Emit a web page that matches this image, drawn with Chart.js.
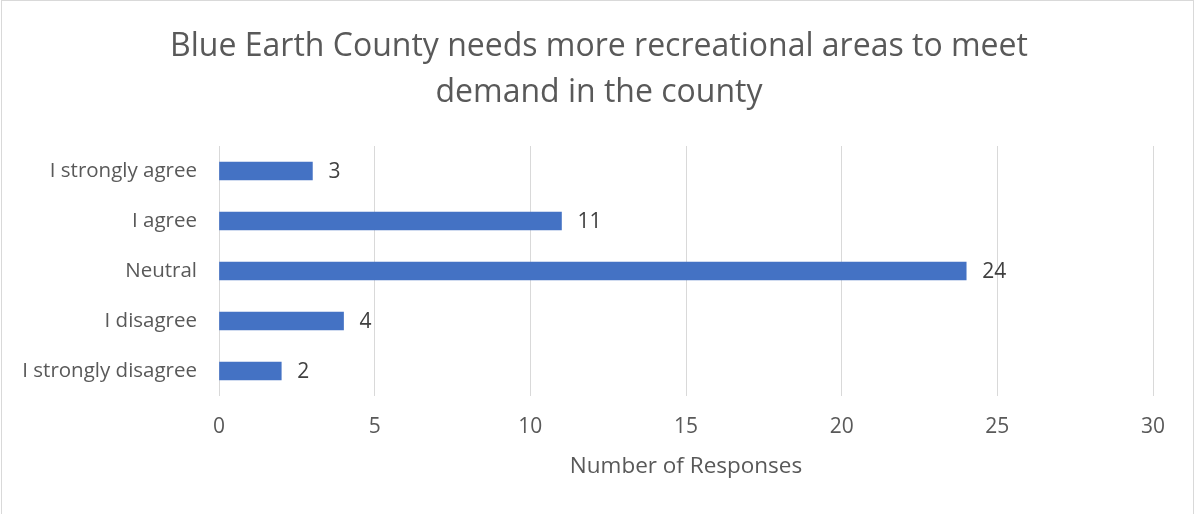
<!DOCTYPE html>
<html>
<head>
<meta charset="utf-8">
<script src="https://cdn.jsdelivr.net/npm/chart.js@4/dist/chart.umd.min.js"></script>
<style>
  html, body { margin: 0; padding: 0; background: #fff; }
  #wrap { position: relative; width: 1198px; height: 514px; }
  #frame { position: absolute; left: 1px; top: 0; width: 1193px; height: 520px; border: 1px solid #d9d9d9; box-sizing: border-box; }
  canvas { position: absolute; left: 0; top: 0; }
</style>
</head>
<body>
<div id="wrap">
  <div id="frame"></div>
  <canvas id="chart" width="1198" height="514"></canvas>
</div>
<script>
// Chart data
const categories = ['I strongly agree', 'I agree', 'Neutral', 'I disagree', 'I strongly disagree'];
const responses = [3, 11, 24, 4, 2];
const xTicks = [0, 5, 10, 15, 20, 25, 30];
const titleLines = ['Blue Earth County needs more recreational areas to meet', 'demand in the county'];

const textGrey = '#595959';
const fontFamily = '"Open Sans", "Liberation Sans", sans-serif';

// Title centred on the whole canvas (the built-in one centres between paddings)
const centeredTitle = {
    id: 'centeredTitle',
    afterDraw(chart) {
        const ctx = chart.ctx;
        ctx.save();
        ctx.fillStyle = textGrey;
        ctx.font = '32px ' + fontFamily;
        ctx.textAlign = 'center';
        ctx.textBaseline = 'middle';
        titleLines.forEach((line, i) => {
            ctx.fillText(line, chart.width / 2, 47 + i * 46);
        });
        ctx.restore();
    }
};

// Value labels just past each bar end
const barLabels = {
    id: 'barLabels',
    afterDatasetsDraw(chart) {
        const ctx = chart.ctx;
        const meta = chart.getDatasetMeta(0);
        ctx.save();
        ctx.fillStyle = '#404040';
        ctx.font = '21px ' + fontFamily;
        ctx.textAlign = 'left';
        ctx.textBaseline = 'middle';
        meta.data.forEach((bar, i) => {
            ctx.fillText(String(responses[i]), bar.x + 16, bar.y + 1);
        });
        ctx.restore();
    }
};

new Chart(document.getElementById('chart').getContext('2d'), {
    type: 'bar',
    data: {
        labels: categories,
        datasets: [{
            data: responses,
            backgroundColor: '#4472c4',
            barThickness: 18
        }]
    },
    plugins: [barLabels, centeredTitle],
    options: {
        indexAxis: 'y',
        responsive: false,
        animation: false,
        layout: { padding: { left: 0, right: 45, top: 146, bottom: 34 } },
        plugins: {
            legend: { display: false },
            tooltip: { enabled: false },
            title: { display: false }
        },
        scales: {
            x: {
                min: 0,
                max: 30,
                afterBuildTicks(scale) {
                    scale.ticks = xTicks.map(v => ({ value: v }));
                },
                afterFit(scale) { scale.height = 84; },
                grid: { color: '#d9d9d9', lineWidth: 1, drawTicks: false },
                border: { display: false },
                ticks: {
                    color: textGrey,
                    font: { family: fontFamily, size: 21 },
                    padding: 18
                },
                title: {
                    display: true,
                    text: 'Number of Responses',
                    color: textGrey,
                    font: { family: fontFamily, size: 22.5 },
                    padding: { top: 13, bottom: 0 }
                }
            },
            y: {
                afterFit(scale) { scale.width = 219; },
                grid: { display: false, drawTicks: false },
                border: { display: false },
                ticks: {
                    color: textGrey,
                    font: { family: fontFamily, size: 20.5 },
                    padding: 22
                }
            }
        }
    }
});
</script>
</body>
</html>
